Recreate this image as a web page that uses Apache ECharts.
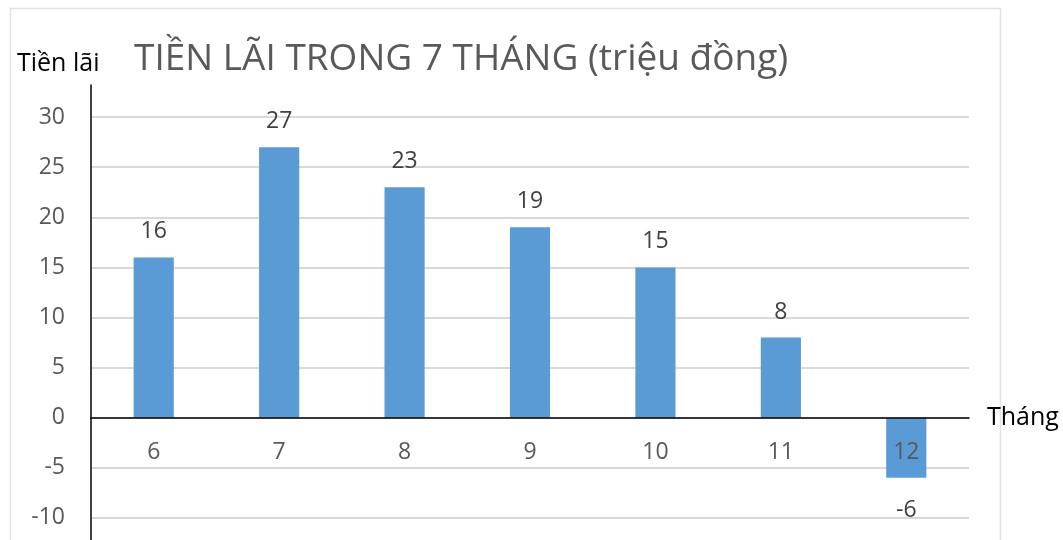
<!DOCTYPE html>
<html>
<head>
<meta charset="utf-8">
<script src="https://cdn.jsdelivr.net/npm/echarts@6/dist/echarts.min.js"></script>
<style>html,body{margin:0;padding:0;background:#fff}#c{width:1063px;height:540px}</style>
</head>
<body>
<div id="c"></div>
<script>
const categories = ['6', '7', '8', '9', '10', '11', '12'];
const profit = [16, 27, 23, 19, 15, 8, -6];
const yTicks = [-10, -5, 0, 5, 10, 15, 20, 25, 30];
const titleText = 'TIỀN LÃI TRONG 7 THÁNG (triệu đồng)';
const yName = 'Tiền lãi';
const xName = 'Tháng';

const yMin = -12.2, yMax = 33.2;
const gridTop = 85, gridBottom = 0;
const plotH = 540 - gridTop - gridBottom;
const zeroFromBottom = plotH * (0 - yMin) / (yMax - yMin);

const chart = echarts.init(document.getElementById('c'));
const font = '"Open Sans", sans-serif';
chart.setOption({
  animation: false,
  backgroundColor: '#fff',
  graphic: [{
    type: 'rect', z: -10, silent: true,
    shape: {x: 10.5, y: 8.5, width: 990, height: 560},
    style: {fill: 'none', stroke: '#e3e3e3', lineWidth: 1.5}
  }],
  title: [
    {text: titleText, left: 129, top: 36,
     textStyle: {fontFamily: font, fontSize: 37, fontWeight: 'normal', color: '#595959'}},
    {text: yName, left: 12, top: 46,
     textStyle: {fontFamily: font, fontSize: 25, fontWeight: 'normal', color: '#000'}}
  ],
  grid: {left: 91, right: 94, top: gridTop, bottom: gridBottom, containLabel: false, outerBoundsMode: 'none'},
  xAxis: {
    type: 'category', data: categories, z: 5,
    position: 'bottom', offset: -zeroFromBottom,
    name: xName, nameLocation: 'end', nameGap: 18,
    nameTextStyle: {fontFamily: font, fontSize: 25, color: '#000', verticalAlign: 'middle'},
    axisLine: {onZero: false, lineStyle: {color: '#000', width: 1.5}},
    axisTick: {show: false},
    axisLabel: {fontFamily: font, fontSize: 23, color: '#595959', margin: 23, hideOverlap: false}
  },
  yAxis: {
    type: 'value', min: yMin, max: yMax,
    axisLine: {show: true, lineStyle: {color: '#000', width: 1.5}},
    axisTick: {show: false, customValues: yTicks},
    axisLabel: {fontFamily: font, fontSize: 23, color: '#595959', margin: 26, customValues: yTicks},
    splitLine: {show: true, lineStyle: {color: '#d9d9d9', width: 2}}
  },
  series: [{
    type: 'bar', z: 2,
    barWidth: '32%',
    itemStyle: {color: '#5b9bd5'},
    label: {show: true, position: 'top', distance: 14, fontFamily: font, fontSize: 23, color: '#404040'},
    data: profit.map(v => v < 0 ? {value: v, label: {position: 'bottom', distance: 21}} : v)
  }]
});
</script>
</body>
</html>
